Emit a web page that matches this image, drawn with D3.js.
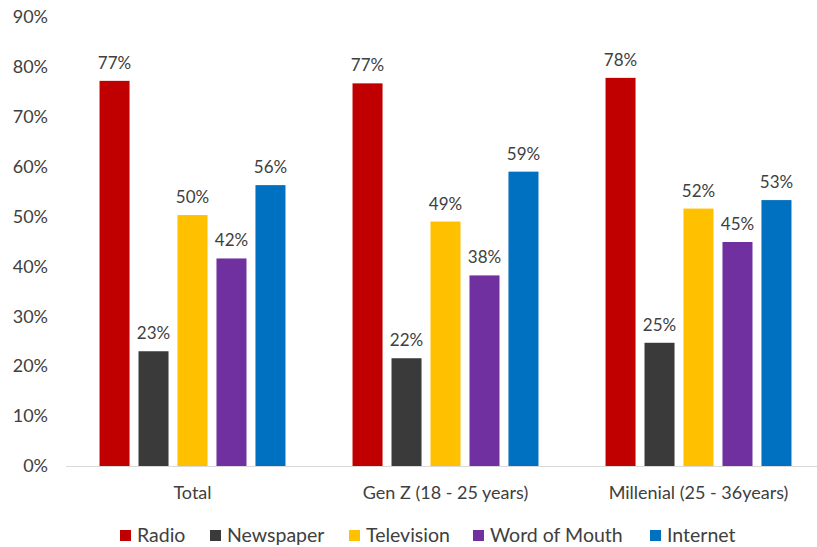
<!DOCTYPE html>
<html>
<head>
<meta charset="utf-8">
<script src="https://cdn.jsdelivr.net/npm/d3@7"></script>
<style>
  html, body { margin: 0; padding: 0; background: #fff; }
  svg { display: block; font-family: Lato, "Open Sans", sans-serif; }
</style>
</head>
<body>
<svg id="chart" width="817" height="547"></svg>
<script>
const categories = ["Total", "Gen Z (18 - 25 years)", "Millenial (25 - 36years)"];
const seriesNames = ["Radio", "Newspaper", "Television", "Word of Mouth", "Internet"];
const seriesColors = ["#C00000", "#3A3A3A", "#FFC000", "#7030A0", "#0070C0"];
const radio = [77.2, 76.7, 77.8];
const newspaper = [23.0, 21.6, 24.7];
const television = [50.3, 49.0, 51.6];
const wordOfMouth = [41.6, 38.2, 44.9];
const internet = [56.3, 59.0, 53.3];
const yTicks = [0, 10, 20, 30, 40, 50, 60, 70, 80, 90];

const seriesValues = [radio, newspaper, television, wordOfMouth, internet];
const data = categories.map((c, i) => ({
  category: c,
  values: seriesNames.map((s, j) => ({ series: s, value: seriesValues[j][i], color: seriesColors[j] }))
}));

const svg = d3.select("#chart");
const textColor = "#404040";

const y = d3.scaleLinear().domain([0, 90]).range([466, 17]);
const x0 = d3.scaleBand().domain(categories).range([66, 825]).paddingInner(0.265).paddingOuter(0.1325);
const x1 = d3.scaleBand().domain(seriesNames).range([0, x0.bandwidth()]).paddingInner(0.23);

// y axis labels
const yAxis = d3.axisLeft(y).tickValues(yTicks).tickFormat(d => d + "%").tickSize(0).tickPadding(0);
const ya = svg.append("g").attr("transform", "translate(48,0)").call(yAxis);
ya.select(".domain").remove();
ya.selectAll("text").attr("fill", textColor).style("font-size", "18px").style("font-family", "Lato, sans-serif");

// bars
const groups = svg.append("g").selectAll("g").data(data).join("g")
  .attr("transform", d => `translate(${x0(d.category)},0)`);
groups.selectAll("rect").data(d => d.values).join("rect")
  .attr("x", d => x1(d.series))
  .attr("y", d => y(d.value))
  .attr("width", x1.bandwidth())
  .attr("height", d => y(0) - y(d.value))
  .attr("fill", d => d.color);
groups.selectAll("text").data(d => d.values).join("text")
  .attr("x", d => x1(d.series) + x1.bandwidth() / 2)
  .attr("y", d => y(d.value) - 12)
  .attr("text-anchor", "middle")
  .attr("fill", textColor)
  .style("font-size", "17px")
  .text(d => Math.round(d.value) + "%");

// x axis
const xAxis = d3.axisBottom(x0).tickSize(0).tickPadding(20);
const xa = svg.append("g").attr("transform", `translate(0,${y(0)})`).call(xAxis);
xa.select(".domain").attr("stroke", "#d9d9d9").attr("stroke-width", 1.2).attr("d", "M66,0.5H817");
xa.selectAll("text").attr("fill", textColor).style("font-size", "18px").style("font-family", "Lato, sans-serif");

// legend
const legendX = [120, 210, 349, 473, 650];
const lg = svg.append("g").selectAll("g").data(seriesNames).join("g")
  .attr("transform", (d, i) => `translate(${legendX[i]},530)`);
lg.append("rect").attr("width", 11).attr("height", 11).attr("fill", (d, i) => seriesColors[i]);
lg.append("text").attr("x", 17).attr("y", 12).attr("fill", textColor)
  .style("font-size", "19.5px").text(d => d);
</script>
</body>
</html>
